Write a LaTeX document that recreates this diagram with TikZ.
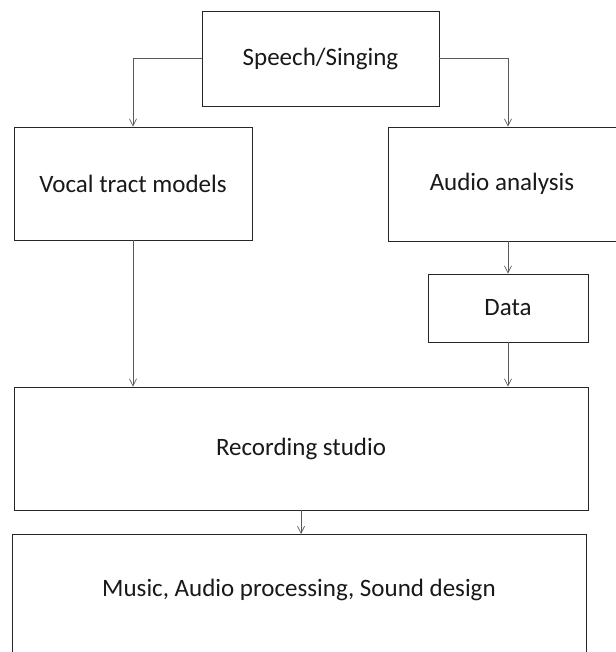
\documentclass[tikz,border=0pt]{standalone}
\usepackage{fontspec}
\setmainfont{Carlito}
\usetikzlibrary{arrows.meta,calc}
\tikzset{
  lbl/.style={font=\fontsize{25}{30}\selectfont, text=black!90},
  blk/.style={draw=black!85, line width=0.8pt, inner sep=0pt, lbl},
  arr/.style={draw=black!65, line width=0.75pt, -{Straight Barb[length=7pt,width=7pt,line width=0.7pt]}}
}
\begin{document}
\begin{tikzpicture}[x=1pt,y=-1pt]
\useasboundingbox[fill=white] (0,0) rectangle (615,652);
% boxes: centre, width, height
\node[blk, minimum width=237pt, minimum height=95pt] (speech) at (320.5,58.5) {Speech/Singing};
\node[blk, minimum width=238pt, minimum height=113pt] (vocal) at (133,183.5) {Vocal tract models};
\node[blk, minimum width=228pt, minimum height=114pt] (audio) at (502,184) {Audio analysis};
\node[blk, minimum width=160pt, minimum height=68pt] (data) at (508,308) {Data};
\node[blk, minimum width=574pt, minimum height=123pt] (rec) at (301,448.5) {Recording studio};
% the last box runs past the lower edge; its label sits in the visible part
\node[blk, minimum width=574pt, minimum height=140pt, anchor=north] (music) at (299,534) {};
\node[lbl] (musictext) at (299,590) {Music, Audio processing, Sound design};
% connectors
\draw[arr] (speech.west) -| (vocal.north);
\draw[arr] (speech.east) -| (data.north |- audio.north);
\draw[arr] (data.north |- audio.south) -- (data.north);
\draw[arr] (vocal.south) -- (vocal.south |- rec.north);
\draw[arr] (data.south) -- (data.south |- rec.north);
\draw[arr] (rec.south) -- (rec.south |- music.north);
\end{tikzpicture}
\end{document}
